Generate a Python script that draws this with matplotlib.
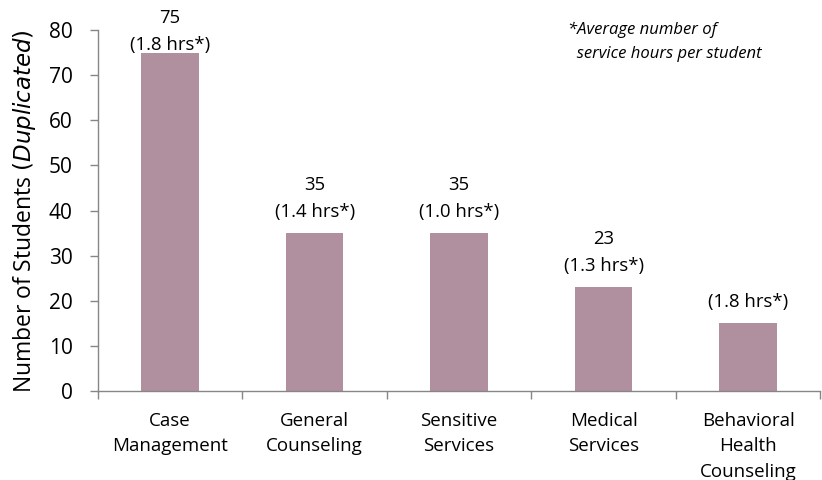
import numpy as np
import matplotlib.pyplot as plt
import matplotlib as mpl

mpl.rcParams['font.family'] = ['Open Sans', 'DejaVu Sans']

categories = ['Case\nManagement', 'General\nCounseling', 'Sensitive\nServices',
              'Medical\nServices', 'Behavioral\nHealth\nCounseling']
students = [75, 35, 35, 23, 15]
hours = [1.8, 1.4, 1.0, 1.3, 1.8]
show_count = [True, True, True, True, False]  # 最后一个柱子只显示小时数

bar_color = '#B0909E'
axis_color = '#868686'

fig = plt.figure(figsize=(8.22, 4.8), dpi=100)
ax = fig.add_axes([0.119, 0.185, 0.879, 0.7525])

x = np.arange(len(categories))
ax.bar(x, students, width=0.4, color=bar_color, zorder=2)

# 标签位置(数据单位)，超出顶部时整体下移
top_limit = 82.7
for xi, v, h, sc in zip(x, students, hours, show_count):
    y2 = v + 4.7
    y1 = v + 10.7
    shift = max(0, y1 - top_limit)
    ax.text(xi, y2 - shift, '(%.1f hrs*)' % h, ha='center', va='center',
            fontsize=13.3, clip_on=False)
    if sc:
        ax.text(xi, y1 - shift, str(v), ha='center', va='center',
                fontsize=13.3, clip_on=False)

ax.set_xlim(-0.5, len(categories) - 0.5)
ax.set_ylim(0, 80)
ax.set_yticks(range(0, 81, 10))
ax.tick_params(axis='y', labelsize=15, colors=axis_color, labelcolor='black',
               direction='out', length=6, width=1, pad=12)

# x轴刻度放在类别边界
ax.set_xticks(np.arange(-0.5, len(categories), 1.0))
ax.set_xticklabels([])
ax.set_xticks(x, minor=True)
ax.set_xticklabels(categories, minor=True, fontsize=13.5, linespacing=1.52, va='top')
ax.tick_params(axis='x', which='major', direction='out', length=6, width=1, colors=axis_color)
ax.tick_params(axis='x', which='minor', length=0, pad=15, labelcolor='black')

for s in ['top', 'right']:
    ax.spines[s].set_visible(False)
for s in ['left', 'bottom']:
    ax.spines[s].set_color(axis_color)
    ax.spines[s].set_linewidth(1)

ax.set_ylabel('Number of Students $\\it{(Duplicated)}$', fontsize=16.5)
ax.yaxis.set_label_coords(-0.083, 0.5)

fig.text(0.691, 0.913, '*Average number of\n  service hours per student', fontsize=12,
         style='italic', ha='left', va='center', linespacing=1.7)

fig.savefig('out.png', dpi=100)
